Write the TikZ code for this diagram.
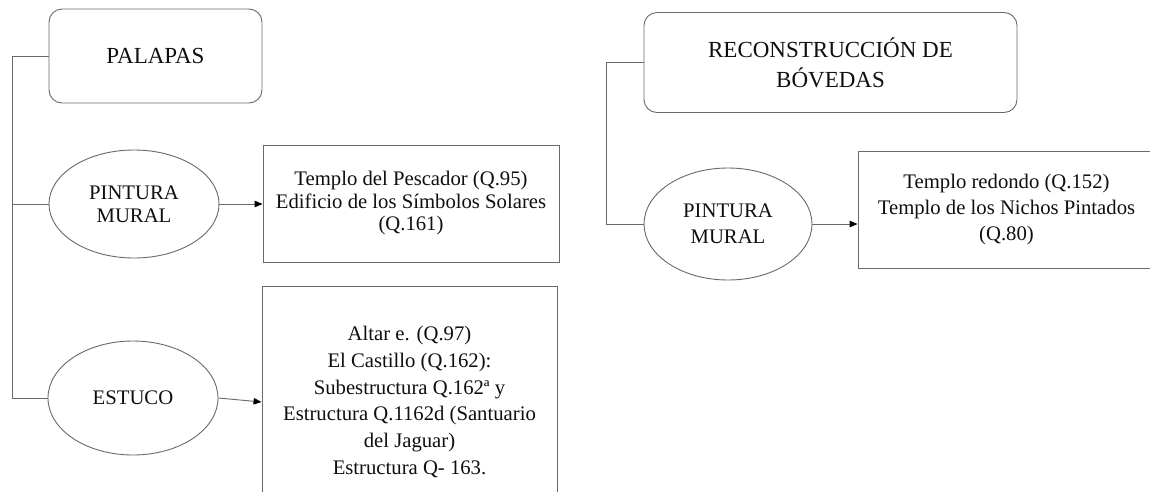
\documentclass[tikz,border=0pt]{standalone}
\usepackage{fontspec}
\setmainfont{Liberation Serif}
\usetikzlibrary{shapes.geometric,arrows.meta}
\definecolor{linec}{RGB}{105,105,105}
\definecolor{txtc}{RGB}{15,15,15}
\tikzset{
  titlebox/.style={draw=linec, line width=0.9pt, rounded corners=13pt, align=center, text=txtc, inner sep=0pt},
  oval/.style={draw=linec, line width=0.9pt, ellipse, align=center, text=txtc, inner sep=0pt},
  listbox/.style={draw=linec, line width=0.9pt, rectangle, align=center, text=txtc, inner sep=0pt},
  link/.style={draw=linec, line width=0.9pt},
  arr/.style={draw=linec, line width=0.9pt, -{Triangle[length=8pt,width=6.5pt,color=black]}},
}
\begin{document}
\begin{tikzpicture}[x=1pt,y=-1pt]
\clip (0,0) rectangle (1150,491);
\fill[white] (0,0) rectangle (1150,491);
% left group
\node[titlebox, minimum width=213pt, minimum height=94pt, font=\fontsize{23}{27}\selectfont] (pal) at (155.5,56) {PALAPAS};
\node[oval, minimum width=170pt, minimum height=108pt, font=\fontsize{20.7}{23}\selectfont] (pm1) at (134,204) {PINTURA\\MURAL};
\node[oval, minimum width=170pt, minimum height=114pt, font=\fontsize{20.7}{23}\selectfont] (est) at (133,398) {ESTUCO};
\node[listbox, minimum width=296pt, minimum height=117pt, font=\fontsize{20.7}{22.5}\selectfont] (b1) at (411,203.5) {Templo del Pescador (Q.95)\\Edificio de los Símbolos Solares\\(Q.161)};
\node[listbox, minimum width=295pt, minimum height=232pt, font=\fontsize{20.7}{26.7}\selectfont] (b2) at (409.5,402) {Altar e. (Q.97)\\El Castillo (Q.162):\\Subestructura Q.162ª y\\Estructura Q.1162d (Santuario\\del Jaguar)\\Estructura Q- 163.};
\coordinate (lv) at (12,56);
\draw[link] (pal.west) -- (lv) -- (lv |- est.west) -- (est.west);
\draw[link] (lv |- pm1.west) -- (pm1.west);
\draw[arr] (pm1.east) -- (pm1.east -| b1.west);
\draw[arr] (est.east) -- (b2.west);
% right group
\node[titlebox, minimum width=373pt, minimum height=100pt, font=\fontsize{23}{30}\selectfont] (rec) at (830.5,62.5) {RECONSTRUCCIÓN DE\\BÓVEDAS};
\node[oval, minimum width=168pt, minimum height=112pt, font=\fontsize{20.7}{26}\selectfont] (pm2) at (728,224) {PINTURA\\MURAL};
\node[listbox, minimum width=297pt, minimum height=117pt, font=\fontsize{20.7}{26}\selectfont] (b3) at (1006.5,210) {Templo redondo (Q.152)\\Templo de los Nichos Pintados\\(Q.80)};
\coordinate (rv) at (606,62.5);
\draw[link] (rec.west) -- (rv) -- (rv |- pm2.west) -- (pm2.west);
\draw[arr] (pm2.east) -- (pm2.east -| b3.west);
\end{tikzpicture}
\end{document}
